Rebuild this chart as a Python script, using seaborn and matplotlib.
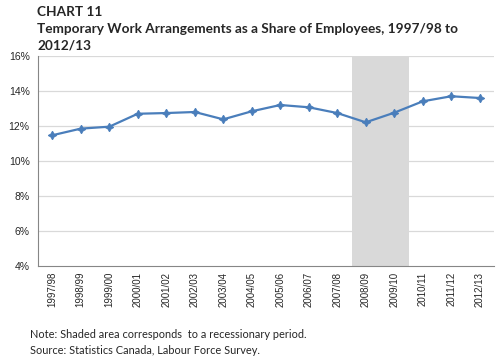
import matplotlib
matplotlib.use("Agg")
import matplotlib.pyplot as plt
import seaborn as sns
import numpy as np
import pandas as pd

years = ['1997/98', '1998/99', '1999/00', '2000/01', '2001/02', '2002/03',
         '2003/04', '2004/05', '2005/06', '2006/07', '2007/08', '2008/09',
         '2009/10', '2010/11', '2011/12', '2012/13']
share = [11.47, 11.85, 11.96, 12.70, 12.74, 12.80, 12.38, 12.84,
         13.20, 13.07, 12.74, 12.21, 12.76, 13.41, 13.70, 13.60]
recession = ['2008/09', '2009/10']
yticks = [4, 6, 8, 10, 12, 14, 16]

sns.set_style("white")
plt.rcParams['font.family'] = ['Liberation Sans', 'DejaVu Sans']

df = pd.DataFrame({'Year': years, 'Share': share})
df['pos'] = np.arange(len(years))

fig = plt.figure(figsize=(4.99, 3.63), dpi=100)
ax = fig.add_axes([38 / 499, 1 - 266 / 363, 456 / 499, 210 / 363])

# shaded recession years
start = years.index(recession[0]) - 0.5
end = years.index(recession[-1]) + 0.5
ax.axvspan(start, end, color='#d9d9d9', lw=0, zorder=0)

for t in yticks[1:]:
    ax.axhline(t, color='#d9d9d9', lw=0.9, zorder=0.5)

sns.lineplot(data=df, x='pos', y='Share', ax=ax, color='#4a7ebb', lw=1.6,
             marker=(4, 1, 0), markersize=6, markeredgewidth=0.8,
             markeredgecolor='#4a7ebb', zorder=3)

ax.set_xlim(-0.5, len(years) - 0.5)
ax.set_ylim(4, 16)
ax.set_xticks(df['pos'])
ax.set_xticklabels(years, rotation=90, fontsize=7)
ax.set_xticks(np.arange(len(years) + 1) - 0.5, minor=True)
ax.tick_params(axis='x', which='major', length=0, pad=4)
ax.tick_params(axis='x', which='minor', length=4, color='#868686', width=0.8)
ax.set_yticks(yticks)
ax.set_yticklabels([f'{t}%' for t in yticks], fontsize=7.5)
ax.tick_params(axis='y', length=4, color='#868686', width=0.8, pad=2)
ax.set_xlabel('')
ax.set_ylabel('')

for s in ['top', 'right']:
    ax.spines[s].set_visible(False)
for s in ['left', 'bottom']:
    ax.spines[s].set_color('#868686')
    ax.spines[s].set_linewidth(0.8)

title_font = ['Lato', 'DejaVu Sans']
fig.text(37 / 499, 1 - 12 / 363, 'CHART 11', fontsize=9.8, fontweight='bold',
         family=title_font, va='center')
fig.text(37 / 499, 1 - 29 / 363,
         'Temporary Work Arrangements as a Share of Employees, 1997/98 to',
         fontsize=9.8, fontweight='bold', family=title_font, va='center')
fig.text(37 / 499, 1 - 46 / 363, '2012/13', fontsize=9.8, fontweight='bold',
         family=title_font, va='center')

fig.text(30 / 499, 1 - 335 / 363,
         'Note: Shaded area corresponds  to a recessionary period.',
         fontsize=7.9, family=title_font, va='center')
fig.text(30 / 499, 1 - 351 / 363, 'Source: Statistics Canada, Labour Force Survey.',
         fontsize=7.9, family=title_font, va='center')

fig.savefig('out.png', dpi=100)
